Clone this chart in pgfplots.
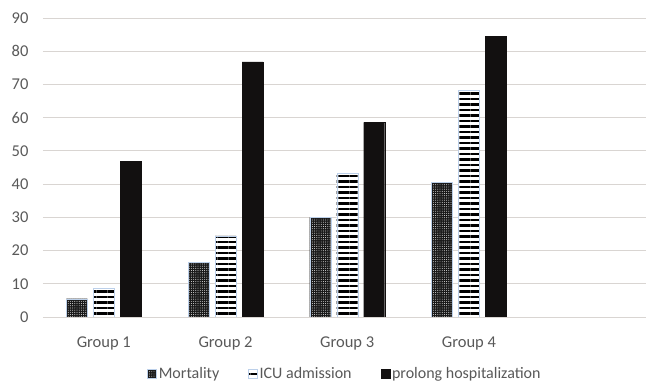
\documentclass[border=0pt]{standalone}
\usepackage{fontspec}
\setmainfont{Carlito}
\usepackage{pgfplots}
\pgfplotsset{compat=1.18}
\usetikzlibrary{patterns.meta}
\definecolor{txt}{HTML}{595959}
\definecolor{gridc}{HTML}{D9D5D2}
\definecolor{edge}{HTML}{BCD0EA}
\definecolor{blk}{HTML}{121010}
\begin{document}
\begin{tikzpicture}
\path[use as bounding box] (-43pt,-68pt) rectangle (603pt,317pt);
\begin{axis}[
  at={(0,0)}, anchor=south west,
  scale only axis, width=603pt, height=299pt,
  ybar=6pt, bar width=21pt,
  xmin=-0.5, xmax=4.455,
  ymin=0, ymax=90,
  ytick={0,10,...,90},
  xtick={0,1,2,3}, xticklabels={Group 1,Group 2,Group 3,Group 4},
  axis line style={draw=none},
  major tick length=0pt,
  ymajorgrids, grid style={gridc, line width=0.9pt},
  /pgf/number format/assume math mode=true,
  ticklabel style={font=\fontsize{16.5}{19}\selectfont, text=txt},
  yticklabel style={xshift=-11pt},
  xticklabel style={yshift=-16pt},
  legend style={at={(0.5,-0.19)}, anchor=center, draw=none, legend columns=-1,
    font=\fontsize{16}{19}\selectfont, text=txt,
    nodes={inner sep=1pt},
    /tikz/every odd column/.append style={column sep=1pt},
    /tikz/every even column/.append style={column sep=28pt}},
  legend image code/.code={\draw[#1] (0pt,-4.5pt) rectangle (9pt,4.5pt);},
]
\addplot[draw=edge, fill=black!90, postaction={pattern={Dots[distance=2.2pt,radius=0.45pt]}, pattern color=white}]
  coordinates {(0,5.5) (1,16.4) (2,30) (3,40.6)};
\addplot[draw=edge, fill=white, postaction={pattern={Lines[angle=0,distance=5.5pt,line width=2.8pt]}, pattern color=black}]
  coordinates {(0,8.8) (1,24.4) (2,43.3) (3,68.3)};
\addplot[draw=blk, fill=blk]
  coordinates {(0,46.8) (1,76.8) (2,58.6) (3,84.5)};
\legend{Mortality, ICU admission, prolong hospitalization}
\end{axis}
\end{tikzpicture}
\end{document}
